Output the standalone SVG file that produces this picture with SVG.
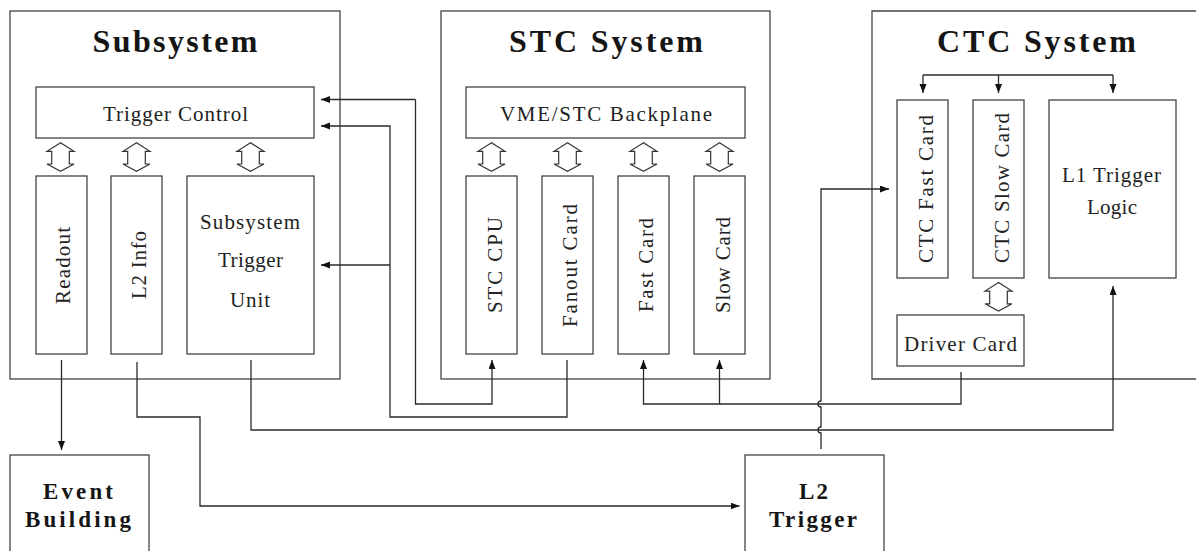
<svg xmlns="http://www.w3.org/2000/svg" width="1196" height="551" viewBox="0 0 1196 551">
  <style>
    .box { fill: #fff; stroke: #444; stroke-width: 1.3; }
    .frame { fill: none; stroke: #444; stroke-width: 1.3; }
    .wire { fill: none; stroke: #2a2a2a; stroke-width: 1.3; }
    .bus { fill: #fff; stroke: #333; stroke-width: 1.2; stroke-linejoin: miter; }
    text { font-family: 'Liberation Serif', 'Times New Roman', serif; text-anchor: middle; }
    .title { font-weight: bold; font-size: 32px; fill: #151515; }
    .bold { font-weight: bold; font-size: 23px; fill: #151515; }
    .lbl { font-size: 21px; fill: #222; }
  </style>
  <defs>
    <marker id="arrow" markerUnits="userSpaceOnUse" markerWidth="10" markerHeight="8" refX="9" refY="3.5" orient="auto">
      <path d="M0,0 L9,3.5 L0,7 z" fill="#111"/>
    </marker>
    <!-- hollow bidirectional bus arrow, top tip at origin -->
    <path id="busArrow" class="bus" d="M0,0 L-13.5,8.6 L-8.8,8.6 L-8.8,21.3 L-13.5,21.3 L0,28.6 L13.5,21.3 L8.8,21.3 L8.8,8.6 L13.5,8.6 Z"/>
  </defs>

  <rect width="1196" height="551" fill="#fff"/>

  <!-- Subsystem -->
  <g id="subsystem">
    <rect class="box" x="10" y="11" width="330" height="368"/>
    <text class="title" x="175" y="52" textLength="165" lengthAdjust="spacing">Subsystem</text>
  </g>
  <g id="trigger-control">
    <rect class="box" x="36" y="87" width="278" height="51"/>
    <text class="lbl" x="175.5" y="121" textLength="145" lengthAdjust="spacing">Trigger Control</text>
  </g>
  <g id="readout">
    <rect class="box" x="36" y="176" width="51" height="178"/>
    <text class="lbl" transform="translate(70,265.5) rotate(-90)" textLength="77" lengthAdjust="spacing">Readout</text>
  </g>
  <g id="l2-info">
    <rect class="box" x="111" y="176" width="51" height="178"/>
    <text class="lbl" transform="translate(146,265) rotate(-90)" textLength="68" lengthAdjust="spacing">L2 Info</text>
  </g>
  <g id="subsystem-trigger-unit">
    <rect class="box" x="187" y="176" width="127" height="178"/>
    <text class="lbl" x="250" y="229" textLength="100" lengthAdjust="spacing">Subsystem</text>
    <text class="lbl" x="250.5" y="267" textLength="65" lengthAdjust="spacing">Trigger</text>
    <text class="lbl" x="250" y="307" textLength="40" lengthAdjust="spacing">Unit</text>
  </g>

  <!-- STC System -->
  <g id="stc-system">
    <rect class="box" x="441" y="11" width="329" height="368"/>
    <text class="title" x="606" y="52" textLength="194" lengthAdjust="spacing">STC System</text>
  </g>
  <g id="vme-backplane">
    <rect class="box" x="466" y="87" width="279" height="51"/>
    <text class="lbl" x="606" y="121" textLength="212" lengthAdjust="spacing">VME/STC Backplane</text>
  </g>
  <g id="stc-cpu">
    <rect class="box" x="466" y="176" width="51" height="178"/>
    <text class="lbl" transform="translate(501.5,265) rotate(-90)" textLength="96" lengthAdjust="spacing">STC CPU</text>
  </g>
  <g id="fanout-card">
    <rect class="box" x="542" y="176" width="51" height="178"/>
    <text class="lbl" transform="translate(577,265.5) rotate(-90)" textLength="123" lengthAdjust="spacing">Fanout Card</text>
  </g>
  <g id="fast-card">
    <rect class="box" x="618" y="176" width="51" height="178"/>
    <text class="lbl" transform="translate(653,265) rotate(-90)" textLength="94" lengthAdjust="spacing">Fast Card</text>
  </g>
  <g id="slow-card">
    <rect class="box" x="694" y="176" width="51" height="178"/>
    <text class="lbl" transform="translate(729.5,265) rotate(-90)" textLength="96" lengthAdjust="spacing">Slow Card</text>
  </g>

  <!-- CTC System (frame runs past the right edge) -->
  <g id="ctc-system">
    <rect x="872" y="11" width="330" height="368" fill="#fff"/>
    <path class="frame" d="M1200,11 H872 V379 H1200"/>
    <text class="title" x="1036.5" y="52" textLength="199" lengthAdjust="spacing">CTC System</text>
  </g>
  <g id="ctc-fast-card">
    <rect class="box" x="897" y="100" width="51" height="178"/>
    <text class="lbl" transform="translate(933,189) rotate(-90)" textLength="148" lengthAdjust="spacing">CTC Fast Card</text>
  </g>
  <g id="ctc-slow-card">
    <rect class="box" x="973" y="100" width="51" height="178"/>
    <text class="lbl" transform="translate(1009,188) rotate(-90)" textLength="150" lengthAdjust="spacing">CTC Slow Card</text>
  </g>
  <g id="l1-trigger-logic">
    <rect class="box" x="1049" y="100" width="127" height="178"/>
    <text class="lbl" x="1111.5" y="182" textLength="99" lengthAdjust="spacing">L1 Trigger</text>
    <text class="lbl" x="1112" y="214" textLength="50" lengthAdjust="spacing">Logic</text>
  </g>
  <g id="driver-card">
    <rect class="box" x="897" y="315" width="127" height="51"/>
    <text class="lbl" x="960.5" y="351" textLength="113" lengthAdjust="spacing">Driver Card</text>
  </g>

  <!-- External units -->
  <g id="event-building">
    <rect class="box" x="10" y="455" width="139" height="110"/>
    <text class="bold" x="78" y="499" textLength="70" lengthAdjust="spacing">Event</text>
    <text class="bold" x="78" y="527" textLength="106" lengthAdjust="spacing">Building</text>
  </g>
  <g id="l2-trigger">
    <rect class="box" x="745" y="455" width="139" height="110"/>
    <text class="bold" x="813.5" y="499" textLength="29" lengthAdjust="spacing">L2</text>
    <text class="bold" x="813" y="527" textLength="88" lengthAdjust="spacing">Trigger</text>
  </g>

  <!-- Bus links -->
  <g id="bus-links">
    <use href="#busArrow" x="60.5" y="142.7"/>
    <use href="#busArrow" x="136.5" y="142.7"/>
    <use href="#busArrow" x="250.5" y="142.7"/>
    <use href="#busArrow" x="491.5" y="142.7"/>
    <use href="#busArrow" x="567.5" y="142.7"/>
    <use href="#busArrow" x="643.5" y="142.7"/>
    <use href="#busArrow" x="719.5" y="142.7"/>
    <use href="#busArrow" x="998.5" y="282.5"/>
  </g>

  <!-- Connectors -->
  <g id="connectors">
    <!-- Readout to Event Building -->
    <path class="wire" d="M61.5,360 V450" marker-end="url(#arrow)"/>
    <!-- L2 Info to L2 Trigger -->
    <path class="wire" d="M137,362 V417 H200 V506 H739.5" marker-end="url(#arrow)"/>
    <!-- Subsystem Trigger Unit to L1 Trigger Logic -->
    <path class="wire" d="M251,360 V430 H1113 V286" marker-end="url(#arrow)"/>
    <!-- STC CPU and Trigger Control -->
    <path class="wire" d="M415.5,99.5 V404 H492 V360" marker-end="url(#arrow)"/>
    <path class="wire" d="M415.5,99.5 H321" marker-end="url(#arrow)"/>
    <!-- Fanout Card to Trigger Control and Subsystem Trigger Unit -->
    <path class="wire" d="M567,360 V417 H390 V126 H321" marker-end="url(#arrow)"/>
    <path class="wire" d="M390,265 H321" marker-end="url(#arrow)"/>
    <!-- Driver Card to Fast Card and Slow Card -->
    <path class="wire" d="M961,372 V404 H643.5 V360" marker-end="url(#arrow)"/>
    <path class="wire" d="M719.5,404 V360" marker-end="url(#arrow)"/>
    <!-- L2 Trigger to CTC Fast Card, hopping over two lines -->
    <path class="wire" d="M821,449 V433 A3,3 0 0 1 821,427 V407 A3,3 0 0 1 821,401 V189 H889" marker-end="url(#arrow)"/>
    <!-- CTC fan-out -->
    <path class="wire" d="M923,75 H1113"/>
    <path class="wire" d="M923,75 V93" marker-end="url(#arrow)"/>
    <path class="wire" d="M998.5,75 V93" marker-end="url(#arrow)"/>
    <path class="wire" d="M1113,75 V93" marker-end="url(#arrow)"/>
  </g>
</svg>
